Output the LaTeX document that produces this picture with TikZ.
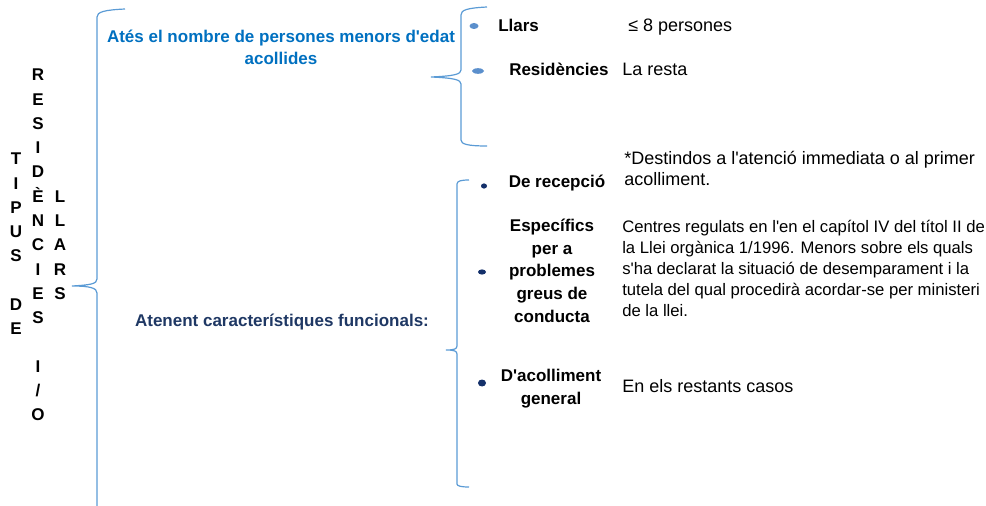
\documentclass[tikz,border=0pt]{standalone}
\usepackage{fontspec}
\setmainfont{Liberation Sans}
\usetikzlibrary{positioning}

\definecolor{blauclar}{HTML}{5B9BD5}
\definecolor{blautitol}{HTML}{0070C0}
\definecolor{blaufosc}{HTML}{1F3864}
\definecolor{punt}{HTML}{5B8FCC}
\definecolor{puntfosc}{HTML}{14306A}

\newcommand{\ap}{\textquotesingle}

\begin{document}
\begin{tikzpicture}[x=0.75pt, y=-0.75pt,
    every node/.style={inner sep=0pt},
    lletres/.style={align=center, font=\fontsize{12.75}{18.2}\selectfont\bfseries},
    titol/.style={align=center, font=\fontsize{12.75}{16.5}\selectfont\bfseries},
    tipus/.style={align=center, font=\fontsize{12.75}{17}\selectfont\bfseries},
    desc/.style={align=left, font=\fontsize{13.5}{16.5}\selectfont},
    petit/.style={align=left, font=\fontsize{12.5}{15.6}\selectfont},
    clau/.style={draw=blauclar, line width=0.9pt}]
        \useasboundingbox (0,0) rectangle (986,506);

        % Columnes verticals
        \node[lletres] (tipusde) at (16,244) {T\\I\\P\\U\\S\\~\\D\\E};
        \node[lletres] (resid) at (38,245) {R\\E\\S\\I\\D\\È\\N\\C\\I\\E\\S\\~\\I\\/\\O};
        \node[lletres] (llars) at (60,245) {L\\L\\A\\R\\S};

        % Claus
        \draw[clau] (125,9) .. controls (104,10) and (97,12) .. (97,17) -- (97,279)
            .. controls (97,284) and (90,285) .. (72,286)
            .. controls (90,286) and (97,288) .. (97,293) -- (97,506);
        \draw[clau] (487,7) .. controls (467,8) and (461,10) .. (461,15) -- (461,70)
            .. controls (461,74) and (455,76) .. (431,77)
            .. controls (455,78) and (461,80) .. (461,84) -- (461,140)
            .. controls (461,144) and (467,146) .. (487,146);
        \draw[clau] (469,180) .. controls (461,180) and (457,181) .. (457,184) -- (457,346)
            .. controls (457,349) and (454,350) .. (446,350)
            .. controls (454,350) and (457,351) .. (457,354) -- (457,484)
            .. controls (457,486) and (461,487) .. (469,487);

        % Criteris
        \node[titol, text=blautitol, anchor=base] (nombre) at (281,65)
            {Atés el nombre de persones menors d\ap edat\\acollides};
        \node[titol, text=blaufosc, anchor=base] (funcio) at (282,326)
            {Atenent característiques funcionals:};

        % Punts
        \fill[punt] (474,26) ellipse (4.5 and 3);
        \fill[punt] (478,71) ellipse (6 and 2.8);
        \fill[puntfosc] (484,186) ellipse (3 and 2.6);
        \fill[puntfosc] (482,272) ellipse (4 and 2.6);
        \fill[puntfosc] (482,383) ellipse (4 and 3.5);

        % Tipus
        \node[tipus, anchor=base west] (llar) at (498,32) {Llars};
        \node[tipus, anchor=base west] (resi) at (509,76) {Residències};
        \node[tipus, anchor=base] (recep) at (557,188) {De recepció};
        \node[tipus, anchor=base] (espec) at (552,322)
            {Específics\\per a\\problemes\\greus de\\conducta};
        \node[tipus, anchor=base] (acoll) at (551,404) {D\ap acolliment\\general};

        % Descripcions
        \node[desc, anchor=base west] (dllar) at (628,32) {≤ 8 persones};
        \node[desc, anchor=base west] (dresi) at (622,76) {La resta};
        \node[desc, anchor=base west] (drecep) at (624,186)
            {*Destindos a l\ap atenció immediata o al primer\\acolliment.};
        \node[petit, anchor=base west] (despec) at (622,316)
            {Centres regulats en l\ap en el capítol IV del títol II de\\la Llei orgànica 1/1996. Menors sobre els quals\\s\ap ha declarat la situació de desemparament i la\\tutela del qual procedirà acordar-se per ministeri\\de la llei.};
        \node[desc, anchor=base west] (dacoll) at (622,392) {En els restants casos};
    \end{tikzpicture}
\end{document}
